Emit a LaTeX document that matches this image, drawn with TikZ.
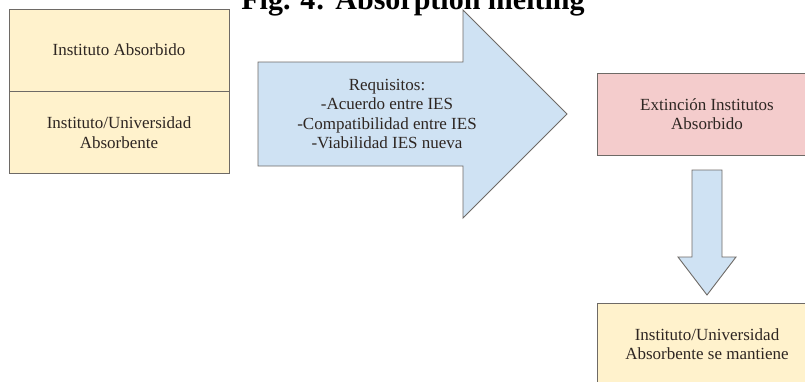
\documentclass[tikz,border=0pt]{standalone}
\usepackage{fontspec}
\setmainfont{Liberation Serif}
\usetikzlibrary{positioning}
\definecolor{fill_yellow}{HTML}{FFF2CC}
\definecolor{fill_pink}{HTML}{F4CCCC}
\definecolor{fill_blue}{HTML}{CFE2F3}
\definecolor{line_gray}{HTML}{6E6A66}
\definecolor{text_gray}{HTML}{2E2622}
\tikzset{
        textnode/.style={align=center, inner sep=0pt, text=text_gray, font=\fontsize{17}{19.5}\selectfont},
        % Yellow boxes
        node_yellow/.style={textnode, rectangle, draw=line_gray, fill=fill_yellow, minimum width=220pt, minimum height=82pt},
        % Pink box
        node_pink/.style={textnode, rectangle, draw=line_gray, fill=fill_pink, minimum width=220pt, minimum height=82pt},
        % Block arrows
        block_arrow/.style={draw=line_gray, fill=fill_blue, line join=miter}
}
\begin{document}
\begin{tikzpicture}[x=1pt, y=-1pt, line width=0.9pt]
            \useasboundingbox (0,0) rectangle (805,381);
            % Title
            \node[anchor=base, inner sep=0pt, font=\bfseries\fontsize{30}{36}\selectfont] (title) at (413,9) {Fig. 4: Absorption melting};
            % Left boxes
            \node[node_yellow] (absorbido) at (119,50) {Instituto Absorbido};
            \node[node_yellow, below=0pt of absorbido] (absorbente) {Instituto/Universidad\\Absorbente};
            % Big arrow
            \draw[block_arrow] (258,62) -- (463,62) -- (463,10) -- (567,114) -- (463,218) -- (463,166) -- (258,166) -- cycle;
            \node[textnode, text depth=0pt] (requisitos) at (387,114) {Requisitos:\\-Acuerdo entre IES\\-Compatibilidad entre IES\\-Viabilidad IES nueva};
            % Right boxes
            \node[node_pink] (extincion) at (707,114) {Extinción Institutos\\Absorbido};
            \node[node_yellow] (mantiene) at (707,344) {Instituto/Universidad\\Absorbente se mantiene};
            % Down arrow
            \draw[block_arrow] (692,170) -- (722,170) -- (722,257) -- (736,257) -- (707,295) -- (678,257) -- (692,257) -- cycle;
\end{tikzpicture}
\end{document}
